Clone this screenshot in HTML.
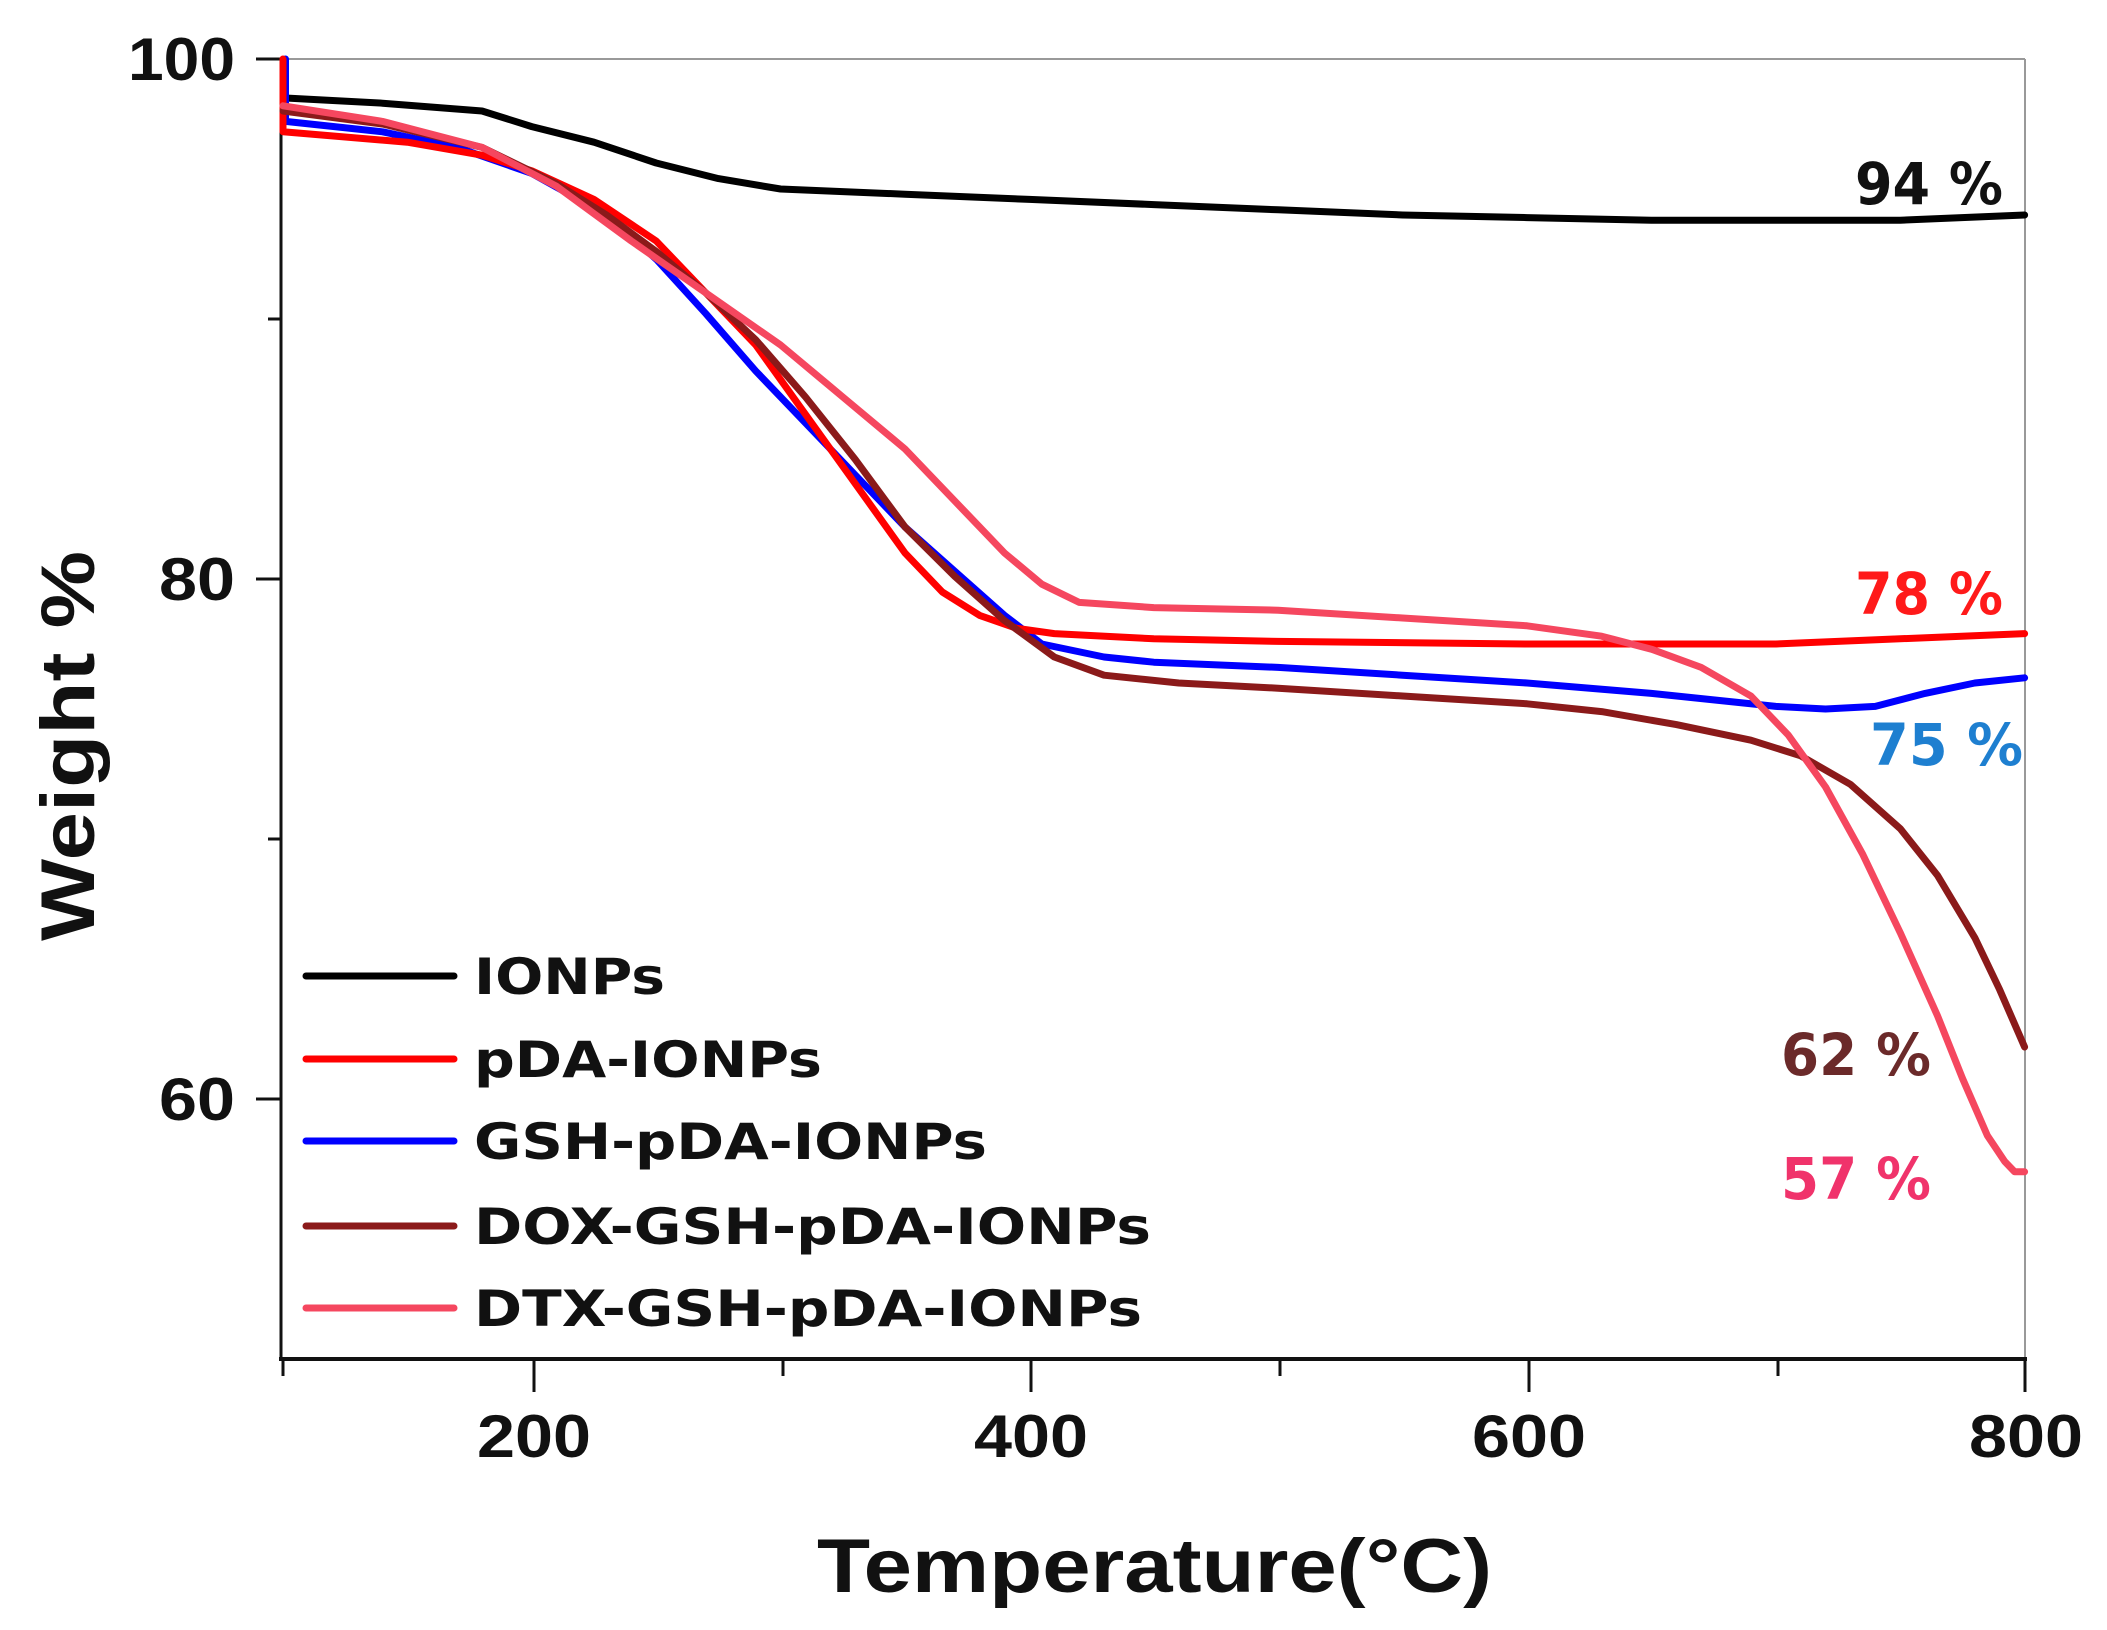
<!DOCTYPE html>
<html><head><meta charset="utf-8"><style>
html,body{margin:0;padding:0;background:#fff;}
svg{display:block;font-family:"DejaVu Sans","Liberation Sans",Arial,sans-serif;font-weight:bold;}
</style></head><body>
<svg width="2107" height="1630" viewBox="0 0 2107 1630" xmlns="http://www.w3.org/2000/svg">
<rect width="2107" height="1630" fill="#fff"/>
<line x1="281" y1="59" x2="2025" y2="59" stroke="#999" stroke-width="2"/>
<line x1="2025" y1="59" x2="2025" y2="1359" stroke="#999" stroke-width="2"/>
<line x1="281" y1="59" x2="281" y2="1359" stroke="#111" stroke-width="3"/>
<line x1="279" y1="1359" x2="2027" y2="1359" stroke="#111" stroke-width="4"/>
<g stroke="#111" stroke-width="3">
<line x1="256" y1="59" x2="281" y2="59"/>
<line x1="256" y1="579" x2="281" y2="579"/>
<line x1="256" y1="1099" x2="281" y2="1099"/>
<line x1="268" y1="319" x2="281" y2="319"/>
<line x1="268" y1="839" x2="281" y2="839"/>
<line x1="534" y1="1359" x2="534" y2="1392"/>
<line x1="1031" y1="1359" x2="1031" y2="1392"/>
<line x1="1529" y1="1359" x2="1529" y2="1392"/>
<line x1="2025" y1="1359" x2="2025" y2="1392"/>
<line x1="283" y1="1359" x2="283" y2="1376"/>
<line x1="783" y1="1359" x2="783" y2="1376"/>
<line x1="1280" y1="1359" x2="1280" y2="1376"/>
<line x1="1778" y1="1359" x2="1778" y2="1376"/>
</g>
<g font-size="60" fill="#111" font-family="Liberation Sans,Arial,sans-serif" lengthAdjust="spacingAndGlyphs">
<text x="128" y="80" textLength="107" lengthAdjust="spacingAndGlyphs">100</text>
<text x="159" y="600" textLength="76" lengthAdjust="spacingAndGlyphs">80</text>
<text x="159" y="1120" textLength="76" lengthAdjust="spacingAndGlyphs">60</text>
<text x="477" y="1457" textLength="114" lengthAdjust="spacingAndGlyphs">200</text>
<text x="974" y="1457" textLength="114" lengthAdjust="spacingAndGlyphs">400</text>
<text x="1472" y="1457" textLength="114" lengthAdjust="spacingAndGlyphs">600</text>
<text x="1969" y="1457" textLength="114" lengthAdjust="spacingAndGlyphs">800</text>
</g>
<text x="817" y="1592" font-size="76" fill="#111" font-family="Liberation Sans,Arial,sans-serif" textLength="675" lengthAdjust="spacingAndGlyphs">Temperature(°C)</text>
<text transform="translate(94,941) rotate(-90)" font-size="76" fill="#111" font-family="Liberation Sans,Arial,sans-serif" textLength="390" lengthAdjust="spacingAndGlyphs">Weight %</text>
<g fill="none" stroke-linejoin="round" stroke-linecap="round" transform="matrix(2.488 0 0 -26 34.2 2659)">
<polyline vector-effect="non-scaling-stroke" stroke="#000" stroke-width="7" points="101,98.5 140,98.3 180,98 200,97.4 225,96.8 250,96 275,95.4 300,95 350,94.8 400,94.6 450,94.4 500,94.2 550,94 600,93.9 650,93.8 700,93.8 750,93.8 800,94"/>
<polyline vector-effect="non-scaling-stroke" stroke="#0000ff" stroke-width="7" points="101,100 101,97.6 140,97.2 170,96.6 200,95.6 230,94 250,92.3 270,90.2 290,88 310,86 330,84 350,82 370,80.3 390,78.6 405,77.5 430,77 450,76.8 500,76.6 550,76.3 600,76 650,75.6 700,75.1 720,75 740,75.1 760,75.6 780,76 800,76.2"/>
<polyline vector-effect="non-scaling-stroke" stroke="#ff0000" stroke-width="7" points="100,100 100,97.2 150,96.8 180,96.3 200,95.7 225,94.6 250,93 270,91 290,89 305,87 320,85 335,83 350,81 365,79.5 380,78.6 395,78.1 410,77.9 450,77.7 500,77.6 600,77.5 700,77.5 750,77.7 800,77.9"/>
<polyline vector-effect="non-scaling-stroke" stroke="#8b1a1a" stroke-width="7" points="100,98 140,97.5 180,96.6 210,95.2 230,94 250,92.6 270,91 290,89.2 310,87 330,84.6 350,82 370,80.1 390,78.4 410,77 430,76.3 460,76 500,75.8 550,75.5 600,75.2 630,74.9 660,74.4 690,73.8 710,73.2 730,72.1 750,70.4 765,68.6 780,66.2 790,64.2 800,62"/>
<polyline vector-effect="non-scaling-stroke" stroke="#f5475f" stroke-width="7" points="100,98.2 140,97.6 180,96.6 210,95.1 240,93 270,91 300,89 325,87 350,85 370,83 390,81 405,79.8 420,79.1 450,78.9 500,78.8 550,78.5 600,78.2 630,77.8 650,77.3 670,76.6 690,75.5 705,74 720,72 735,69.4 750,66.4 765,63.2 775,60.8 785,58.6 792,57.6 796,57.2 800,57.2"/>
</g>
<g stroke-width="7" stroke-linecap="round">
<line x1="306" y1="976" x2="454" y2="976" stroke="#000"/>
<line x1="306" y1="1059" x2="454" y2="1059" stroke="#ff0000"/>
<line x1="306" y1="1141" x2="454" y2="1141" stroke="#0000ff"/>
<line x1="306" y1="1226" x2="454" y2="1226" stroke="#8b1a1a"/>
<line x1="306" y1="1308" x2="454" y2="1308" stroke="#f5475f"/>
</g>
<g font-size="50" fill="#111">
<text x="474" y="994" textLength="191" lengthAdjust="spacingAndGlyphs">IONPs</text>
<text x="474" y="1077" textLength="348" lengthAdjust="spacingAndGlyphs">pDA-IONPs</text>
<text x="474" y="1159" textLength="513" lengthAdjust="spacingAndGlyphs">GSH-pDA-IONPs</text>
<text x="474" y="1244" textLength="677" lengthAdjust="spacingAndGlyphs">DOX-GSH-pDA-IONPs</text>
<text x="474" y="1326" textLength="668" lengthAdjust="spacingAndGlyphs">DTX-GSH-pDA-IONPs</text>
</g>
<g font-size="58">
<text x="1855" y="204" fill="#111" textLength="148" lengthAdjust="spacingAndGlyphs">94 %</text>
<text x="1855" y="614" fill="#ff1a1a" textLength="148" lengthAdjust="spacingAndGlyphs">78 %</text>
<text x="1870" y="765" fill="#1e7fd0" textLength="153" lengthAdjust="spacingAndGlyphs">75 %</text>
<text x="1781" y="1075" fill="#6b2a2a" textLength="150" lengthAdjust="spacingAndGlyphs">62 %</text>
<text x="1781" y="1199" fill="#f0336b" textLength="150" lengthAdjust="spacingAndGlyphs">57 %</text>
</g>
</svg>
</body></html>
